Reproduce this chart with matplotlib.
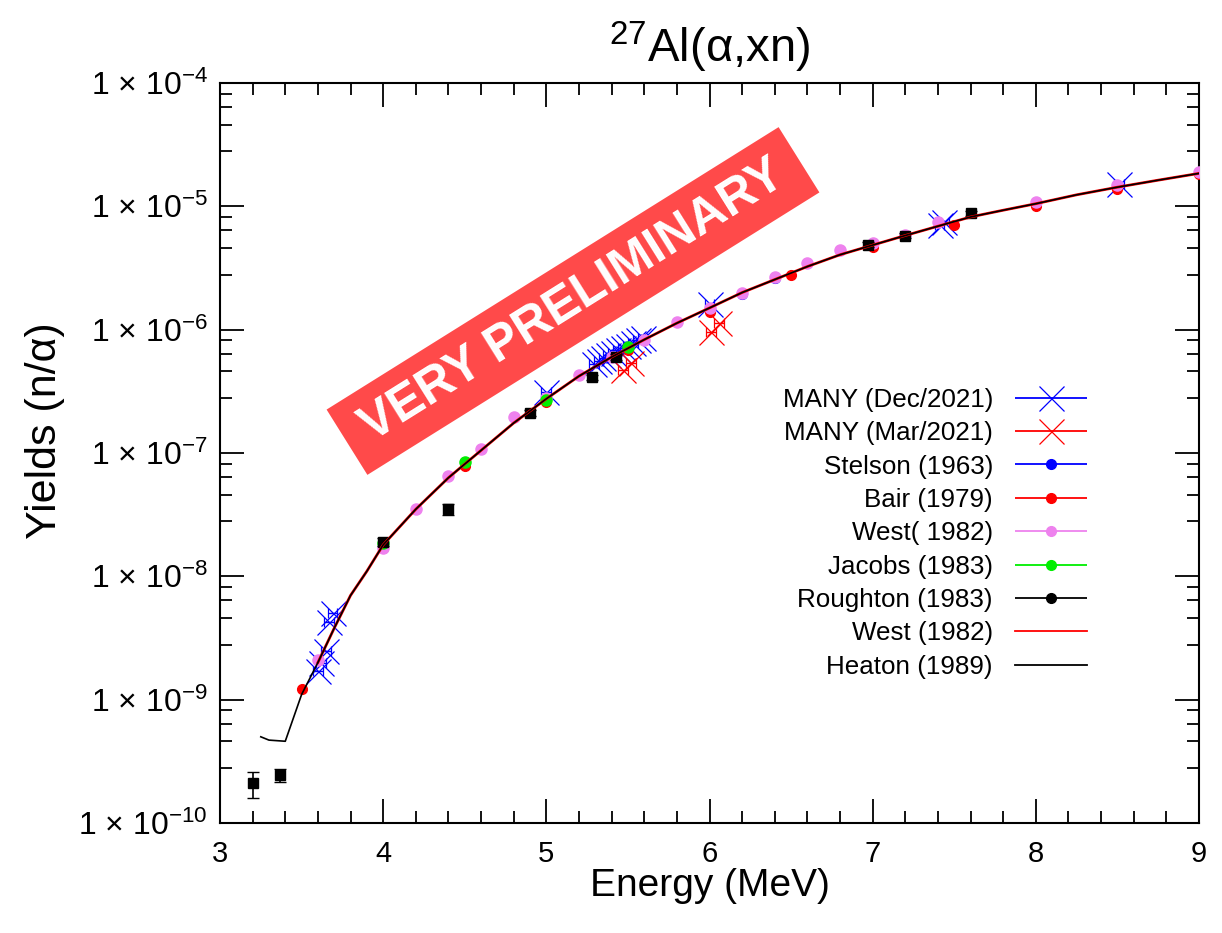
import numpy as np
import matplotlib
matplotlib.use("Agg")
import matplotlib.pyplot as plt
from matplotlib.ticker import FixedLocator, FuncFormatter, MultipleLocator
from matplotlib.container import ErrorbarContainer
from matplotlib.legend_handler import HandlerErrorbar
from matplotlib.patches import Rectangle
from matplotlib.transforms import Affine2D

plt.rcParams['font.family'] = ['Liberation Sans', 'DejaVu Sans']
plt.rcParams['mathtext.fontset'] = 'custom'
plt.rcParams['mathtext.rm'] = 'Liberation Sans'
plt.rcParams['mathtext.it'] = 'Liberation Sans:italic'
plt.rcParams['mathtext.bf'] = 'Liberation Sans:bold'

# MANY (Dec/2021)
many_dec_e = [3.60, 3.62, 3.65, 3.67, 3.69, 5.00, 5.29, 5.32, 5.35, 5.38, 5.41,
              5.44, 5.47, 5.50, 5.53, 5.56, 5.59, 6.00, 7.41, 7.44, 8.51]
many_dec_y = [1.7e-9, 2.0e-9, 2.5e-9, 4.3e-9, 5.0e-9, 3.1e-7, 5.3e-7, 5.6e-7, 5.9e-7,
              6.2e-7, 6.5e-7, 6.8e-7, 7.1e-7, 7.4e-7, 7.8e-7, 8.2e-7, 8.6e-7,
              1.6e-6, 7.1e-6, 7.5e-6, 1.52e-5]
# MANY (Mar/2021)
many_mar_e = [5.47, 5.52, 6.01, 6.06]
many_mar_y = [4.7e-7, 5.4e-7, 9.5e-7, 1.13e-6]
# Stelson (1963)
stelson_e = [6.2, 6.4, 7.4, 8.5]
stelson_y = [1.95e-6, 2.6e-6, 7.4e-6, 1.5e-5]
# Bair (1979)
bair_e = [3.5, 4.0, 4.5, 5.0, 5.5, 6.0, 6.5, 7.0, 7.5, 8.0, 8.5, 9.0]
bair_y = [1.22e-9, 1.7e-8, 7.9e-8, 2.6e-7, 6.8e-7, 1.39e-6, 2.77e-6, 4.7e-6,
          7.1e-6, 1.0e-5, 1.38e-5, 1.82e-5]
# West (1982) points
west_e = [3.6, 4.0, 4.2, 4.4, 4.6, 4.8, 5.0, 5.2, 5.4, 5.6, 5.8, 6.0, 6.2, 6.4,
          6.6, 6.8, 7.0, 7.2, 7.4, 8.0, 8.5, 9.0]
west_y = [2.1e-9, 1.7e-8, 3.5e-8, 6.5e-8, 1.07e-7, 1.95e-7, 2.8e-7, 4.3e-7, 6.0e-7,
          8.2e-7, 1.15e-6, 1.5e-6, 2.0e-6, 2.65e-6, 3.45e-6, 4.4e-6, 5.0e-6,
          5.9e-6, 7.5e-6, 1.08e-5, 1.5e-5, 1.9e-5]
# Jacobs (1983)
jacobs_e = [4.0, 4.5, 5.0, 5.5]
jacobs_y = [1.85e-8, 8.5e-8, 2.7e-7, 7.2e-7]
# Roughton (1983)
roughton_e = [3.2, 3.37, 4.0, 4.4, 4.9, 5.28, 5.43, 6.97, 7.2, 7.6]
roughton_y = [2.1e-10, 2.45e-10, 1.9e-8, 3.5e-8, 2.1e-7, 4.1e-7, 6.0e-7, 4.9e-6, 5.8e-6, 8.8e-6]
roughton_err = [0.5e-10, 0.3e-10, 1.5e-9, 3.5e-9, 1.2e-8, 2.0e-8, 3.5e-8, 2.0e-7, 2.5e-7, 4.0e-7]
# Heaton (1989) curve
heaton_e = [3.25, 3.30, 3.40, 3.50, 3.60, 3.70, 3.80, 3.90, 4.00, 4.20, 4.40, 4.60,
            4.80, 5.00, 5.20, 5.40, 5.60, 5.80, 6.00, 6.20, 6.40, 6.60, 6.80, 7.00,
            7.20, 7.40, 7.60, 7.80, 8.00, 8.25, 8.50, 8.75, 9.00]
heaton_y = [5.0e-10, 4.7e-10, 4.6e-10, 1.1e-9, 2.0e-9, 3.8e-9, 7.0e-9, 1.1e-8, 1.8e-8,
            3.5e-8, 6.3e-8, 1.05e-7, 1.75e-7, 2.75e-7, 4.2e-7, 6.0e-7, 8.3e-7, 1.13e-6,
            1.5e-6, 2.0e-6, 2.55e-6, 3.25e-6, 4.05e-6, 4.85e-6, 5.8e-6, 6.9e-6, 8.2e-6,
            9.3e-6, 1.05e-5, 1.24e-5, 1.43e-5, 1.63e-5, 1.85e-5]
# West (1982) curve
westc_e = heaton_e[4:]
westc_y = heaton_y[4:]

fig = plt.figure(figsize=(12.22, 9.33), dpi=100)
ax = fig.add_axes([220 / 1222, 110 / 933, 979 / 1222, 740 / 933])
ax.set_yscale('log')

ms_x = 18
ax.errorbar(many_dec_e, many_dec_y, xerr=0.03, fmt='x', color='blue', ms=ms_x,
            mew=0.9, elinewidth=1.0, capsize=3.5, zorder=2)
ax.errorbar(many_mar_e, many_mar_y, xerr=0.03, fmt='x', color='red', ms=ms_x,
            mew=0.9, elinewidth=1.0, capsize=3.5, zorder=3)
ax.plot(stelson_e, stelson_y, 'o', color='blue', ms=7, zorder=4)
ax.plot(bair_e, bair_y, 'o', color='red', ms=7, zorder=5)
ax.plot(west_e, west_y, 'o', color='violet', ms=8, zorder=6)
ax.plot(jacobs_e, jacobs_y, 'o', color='#00ee00', ms=8, zorder=7)
ax.errorbar(roughton_e, roughton_y, yerr=roughton_err, fmt='s', color='black', ms=7,
            elinewidth=1.2, capsize=4, zorder=8)
ax.plot(westc_e, westc_y, '-', color='red', lw=2.0, zorder=9)
ax.plot(heaton_e, heaton_y, '-', color='black', lw=1.2, zorder=10)

# legend proxies
kw = dict(elinewidth=1.3, capsize=3.6, ls='none')
handles = [
    ax.errorbar([], [], xerr=[], fmt='x', color='blue', ms=18, mew=0.9, **kw),
    ax.errorbar([], [], xerr=[], fmt='x', color='red', ms=18, mew=0.9, **kw),
    ax.errorbar([], [], xerr=[], fmt='o', color='blue', ms=7, **kw),
    ax.errorbar([], [], xerr=[], fmt='o', color='red', ms=7, **kw),
    ax.errorbar([], [], xerr=[], fmt='o', color='violet', ms=7, **kw),
    ax.errorbar([], [], xerr=[], fmt='o', color='#00ee00', ms=7, **kw),
    ax.errorbar([], [], xerr=[], fmt='o', color='black', ms=7, **kw),
    plt.Line2D([], [], color='red', lw=1.3),
    plt.Line2D([], [], color='black', lw=1.3),
]
labels = ['MANY (Dec/2021)', 'MANY (Mar/2021)', 'Stelson (1963)', 'Bair (1979)',
          'West( 1982)', 'Jacobs (1983)', 'Roughton (1983)', 'West (1982)',
          'Heaton (1989)']
leg = ax.legend(handles, labels, loc='upper right', bbox_to_anchor=(0.8856, 0.588),
                frameon=False, markerfirst=False, fontsize=18.7, handlelength=2.77,
                handletextpad=0.85, labelspacing=0.36, borderpad=0, borderaxespad=0,
                handler_map={ErrorbarContainer: HandlerErrorbar(xerr_size=1.38)})

ax.set_xlim(3, 9)
ax.set_ylim(1e-10, 1e-4)
ax.xaxis.set_major_locator(MultipleLocator(1))
ax.xaxis.set_minor_locator(MultipleLocator(0.2))
ax.yaxis.set_major_locator(FixedLocator([10.0 ** k for k in range(-10, -3)]))
minor = [m * 10.0 ** k for k in range(-10, -4) for m in (2.8, 4.6, 6.4, 8.2)]
ax.yaxis.set_minor_locator(FixedLocator(minor))
ax.yaxis.set_minor_formatter(FuncFormatter(lambda v, p: ''))
ax.yaxis.set_major_formatter(FuncFormatter(
    lambda v, p: '1 × 10$^{%d}$' % int(round(np.log10(v)))))

ax.tick_params(which='both', direction='in', top=True, right=True, width=1.3)
ax.tick_params(which='major', length=17)
ax.tick_params(axis='x', which='major', pad=12, labelsize=21)
ax.tick_params(axis='y', which='major', pad=9, labelsize=23)
ax.tick_params(which='minor', length=8.6)
for s in ax.spines.values():
    s.set_linewidth(1.5)

ax.set_title('$^{27}$Al(α,xn)', fontsize=34, pad=15)
ax.set_xlabel('Energy (MeV)', fontsize=28, labelpad=0)
ax.set_ylabel('Yields (n/α)', fontsize=31)
ax.yaxis.set_label_coords(-0.158, 0.53)

# banner
cx, cy = 5.73, 9.33 - 3.01
banner = Rectangle((-2.665, -0.385), 5.33, 0.77, facecolor='#ff4a4a', edgecolor='none',
                   transform=Affine2D().rotate_deg(32).translate(cx, cy) + fig.dpi_scale_trans,
                   zorder=20)
fig.add_artist(banner)
fig.text(cx / 12.22, cy / 9.33, 'VERY PRELIMINARY', rotation=32, rotation_mode='anchor',
         ha='center', va='center', color='white', fontsize=36, fontweight='bold',
         zorder=21)

fig.savefig('out.png', dpi=100)
